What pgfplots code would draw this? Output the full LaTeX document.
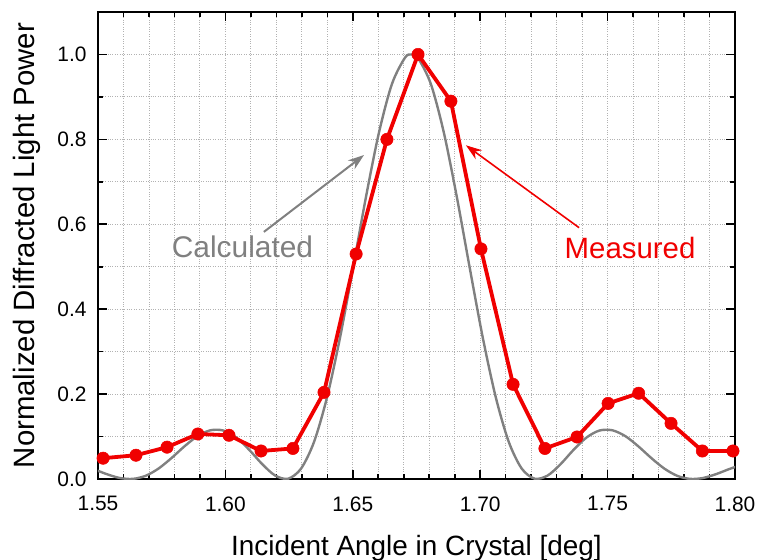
\documentclass[border=0pt]{standalone}
\usepackage{fontspec}
\setmainfont{Liberation Sans}
\usepackage{pgfplots}
\pgfplotsset{compat=1.18}
\usetikzlibrary{arrows.meta}
\definecolor{calc}{RGB}{128,128,128}
\definecolor{meas}{RGB}{240,0,0}
\begin{document}
\begin{tikzpicture}
\useasboundingbox (-98bp,-81bp) rectangle (663bp,479bp);
\begin{axis}[
  scale only axis, width=637bp, height=467bp,
  xmin=1.55, xmax=1.80, ymin=0, ymax=1.1,
  xtick={1.55,1.60,1.65,1.70,1.75,1.80},
  ytick={0,0.2,0.4,0.6,0.8,1.0},
  minor x tick num=4, minor y tick num=1,
  grid=both,
  major grid style={dotted, gray!60, line width=0.9bp},
  minor grid style={dotted, gray!60, line width=0.9bp},
  tick align=inside,
  major tick length=9bp, minor tick length=5bp,
  axis line style={line width=1.6bp},
  every tick/.style={black, line width=1.6bp},
  /pgf/number format/assume math mode=true,
  xticklabel style={/pgf/number format/fixed, /pgf/number format/fixed zerofill, /pgf/number format/precision=2, yshift=-14bp},
  yticklabel style={/pgf/number format/fixed, /pgf/number format/fixed zerofill, /pgf/number format/precision=1, xshift=-8bp},
  scaled ticks=false,
  tick label style={font=\fontsize{21}{24}\selectfont},
  xlabel={Incident Angle in Crystal [deg]},
  ylabel={Normalized Diffracted Light Power},
  xlabel style={font=\fontsize{28}{32}\selectfont, yshift=-17bp},
  ylabel style={font=\fontsize{29.5}{33}\selectfont, yshift=10bp},
  clip=true,
]
\addplot[calc, line width=2.4bp, smooth] coordinates {
(1.54827,0.0234) (1.55336,0.0116) (1.55845,0.0025) (1.56355,0.0002)
(1.56864,0.0074) (1.57373,0.0245) (1.57882,0.0492) (1.58391,0.0768)
(1.58900,0.1008) (1.59409,0.1147) (1.59918,0.1142) (1.60427,0.0977)
(1.60936,0.0687) (1.61445,0.0350) (1.61955,0.0081) (1.62464,0.0007)
(1.62973,0.0248) (1.63482,0.0879) (1.63991,0.1930) (1.64500,0.3334)
(1.65009,0.4967) (1.65518,0.6646) (1.66027,0.8160) (1.66536,0.9304)
(1.67045,0.9921) (1.67300,1.0000) (1.67555,0.9921) (1.68064,0.9304)
(1.68573,0.8160) (1.69082,0.6646) (1.69591,0.4967) (1.70100,0.3334)
(1.70609,0.1930) (1.71118,0.0879) (1.71627,0.0248) (1.72136,0.0007)
(1.72645,0.0081) (1.73155,0.0350) (1.73664,0.0687) (1.74173,0.0977)
(1.74682,0.1142) (1.75191,0.1147) (1.75700,0.1008) (1.76209,0.0768)
(1.76718,0.0492) (1.77227,0.0245) (1.77736,0.0074) (1.78245,0.0002)
(1.78755,0.0025) (1.79264,0.0116) (1.79773,0.0234) (1.80282,0.0338)
};
\addplot[meas, line width=3.8bp, mark=*, mark size=6.2bp, mark options={solid, fill=meas, draw=meas, line width=0.5bp}] coordinates {
(1.5520,0.049) (1.5649,0.056) (1.5771,0.075) (1.5892,0.106)
(1.6014,0.103) (1.6140,0.066) (1.6265,0.072) (1.6387,0.204)
(1.6513,0.530) (1.6634,0.800) (1.6756,1.000) (1.6885,0.890)
(1.7003,0.542) (1.7129,0.223) (1.7254,0.072) (1.7380,0.099)
(1.7502,0.178) (1.7622,0.202) (1.7749,0.131) (1.7872,0.066)
(1.7992,0.066)
};
\node[text=calc, font=\fontsize{30}{34}\selectfont] at (axis cs:1.6067,0.547) {Calculated};
\draw[calc, line width=2bp, -{Stealth[length=16bp,width=11bp]}] (axis cs:1.6151,0.582) -- (axis cs:1.6544,0.763);
\node[text=meas, font=\fontsize{29.5}{34}\selectfont] at (axis cs:1.7588,0.545) {Measured};
\draw[meas, line width=1.6bp, -{Stealth[length=16bp,width=11bp]}] (axis cs:1.7388,0.592) -- (axis cs:1.6944,0.786);
\end{axis}
\end{tikzpicture}
\end{document}
